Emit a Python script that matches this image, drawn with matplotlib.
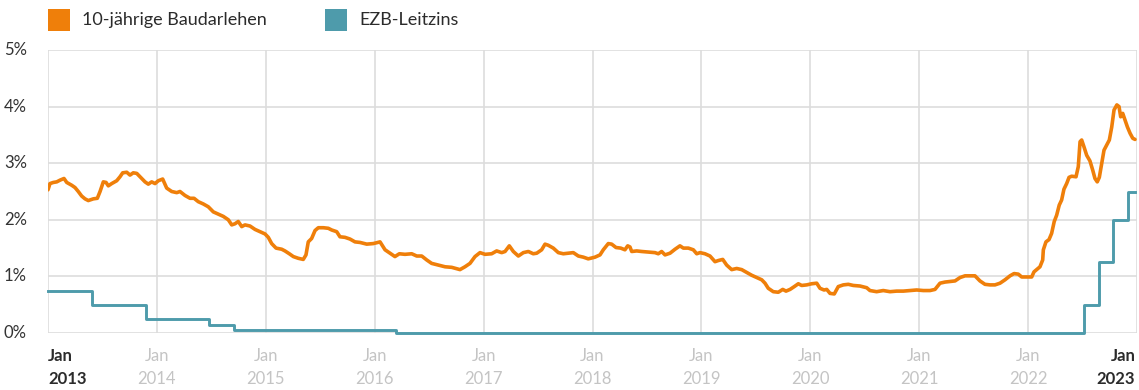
import matplotlib
matplotlib.use("Agg")
import matplotlib.pyplot as plt
from matplotlib.patches import Rectangle
import numpy as np

plt.rcParams['font.family'] = ['Lato', 'DejaVu Sans']

# ---- data (years since Jan 2013, rate in %) ----
bau_t = [0.000, 0.018, 0.049, 0.080, 0.110, 0.147, 0.172, 0.218, 0.248, 0.278, 0.309, 0.340, 0.370, 0.416,
         0.453, 0.478, 0.508, 0.533, 0.554, 0.585, 0.631, 0.661, 0.686, 0.723, 0.753, 0.783, 0.815, 0.845,
         0.891, 0.921, 0.952, 0.983, 1.013, 1.053, 1.090, 1.136, 1.182, 1.212, 1.258, 1.304, 1.341, 1.380,
         1.426, 1.472, 1.518, 1.564, 1.610, 1.656, 1.687, 1.717, 1.747, 1.779, 1.809, 1.855, 1.901, 1.947,
         1.993, 2.023, 2.054, 2.094, 2.146, 2.176, 2.216, 2.253, 2.298, 2.344, 2.369, 2.390, 2.421, 2.452,
         2.482, 2.528, 2.574, 2.605, 2.651, 2.681, 2.727, 2.773, 2.819, 2.865, 2.927, 2.987, 3.049, 3.095,
         3.140, 3.186, 3.226, 3.278, 3.340, 3.386, 3.432, 3.478, 3.523, 3.584, 3.646, 3.707, 3.783, 3.829,
         3.875, 3.921, 3.967, 4.013, 4.074, 4.120, 4.166, 4.197, 4.236, 4.273, 4.319, 4.365, 4.411, 4.456,
         4.488, 4.533, 4.564, 4.594, 4.640, 4.686, 4.732, 4.778, 4.824, 4.870, 4.916, 4.961, 5.023, 5.069,
         5.099, 5.145, 5.176, 5.216, 5.259, 5.298, 5.323, 5.344, 5.360, 5.406, 5.452, 5.512, 5.574, 5.604,
         5.635, 5.666, 5.712, 5.758, 5.803, 5.834, 5.880, 5.926, 5.957, 5.987, 6.033, 6.079, 6.125, 6.155,
         6.196, 6.232, 6.278, 6.324, 6.370, 6.416, 6.462, 6.508, 6.554, 6.584, 6.614, 6.660, 6.706, 6.747,
         6.777, 6.814, 6.853, 6.890, 6.921, 6.967, 7.013, 7.059, 7.089, 7.126, 7.151, 7.181, 7.220, 7.257,
         7.303, 7.349, 7.395, 7.456, 7.518, 7.548, 7.609, 7.670, 7.732, 7.793, 7.854, 7.916, 7.977, 8.038,
         8.099, 8.145, 8.191, 8.237, 8.283, 8.329, 8.375, 8.421, 8.466, 8.512, 8.558, 8.604, 8.650, 8.696,
         8.742, 8.788, 8.834, 8.871, 8.910, 8.941, 8.987, 9.033, 9.054, 9.079, 9.109, 9.134, 9.140, 9.164,
         9.192, 9.216, 9.240, 9.262, 9.286, 9.308, 9.329, 9.354, 9.376, 9.400, 9.440, 9.461, 9.477, 9.492,
         9.513, 9.538, 9.568, 9.593, 9.614, 9.635, 9.654, 9.676, 9.697, 9.722, 9.746, 9.768, 9.789, 9.815,
         9.835, 9.850, 9.869, 9.890, 9.912, 9.936, 9.961, 9.982]
bau_rate = [2.53, 2.64, 2.66, 2.67, 2.70, 2.73, 2.66, 2.61, 2.57, 2.50, 2.42, 2.37, 2.34, 2.37,
            2.38, 2.50, 2.67, 2.66, 2.60, 2.64, 2.69, 2.76, 2.83, 2.84, 2.79, 2.83, 2.82, 2.76,
            2.67, 2.63, 2.67, 2.64, 2.69, 2.72, 2.56, 2.50, 2.48, 2.50, 2.43, 2.38, 2.38, 2.32,
            2.28, 2.23, 2.14, 2.10, 2.06, 2.00, 1.91, 1.93, 1.97, 1.88, 1.91, 1.89, 1.83, 1.79,
            1.75, 1.69, 1.58, 1.50, 1.48, 1.45, 1.40, 1.35, 1.32, 1.30, 1.38, 1.61, 1.67, 1.81,
            1.86, 1.86, 1.85, 1.82, 1.79, 1.70, 1.69, 1.66, 1.61, 1.60, 1.57, 1.58, 1.61, 1.47,
            1.41, 1.35, 1.40, 1.39, 1.40, 1.36, 1.36, 1.29, 1.23, 1.20, 1.17, 1.16, 1.12, 1.17,
            1.23, 1.35, 1.42, 1.39, 1.40, 1.45, 1.42, 1.44, 1.54, 1.44, 1.36, 1.42, 1.44, 1.40,
            1.41, 1.47, 1.57, 1.55, 1.50, 1.42, 1.40, 1.41, 1.42, 1.36, 1.34, 1.31, 1.34, 1.38,
            1.47, 1.58, 1.57, 1.51, 1.50, 1.47, 1.54, 1.52, 1.44, 1.45, 1.44, 1.43, 1.42, 1.40,
            1.44, 1.38, 1.41, 1.48, 1.54, 1.50, 1.50, 1.47, 1.40, 1.42, 1.40, 1.36, 1.26, 1.28,
            1.30, 1.20, 1.12, 1.14, 1.12, 1.07, 1.02, 0.98, 0.94, 0.88, 0.79, 0.73, 0.72, 0.77,
            0.74, 0.77, 0.82, 0.87, 0.84, 0.85, 0.87, 0.88, 0.79, 0.76, 0.77, 0.70, 0.69, 0.82,
            0.85, 0.86, 0.84, 0.83, 0.80, 0.75, 0.73, 0.75, 0.73, 0.74, 0.74, 0.75, 0.76, 0.75,
            0.75, 0.77, 0.88, 0.90, 0.91, 0.92, 0.98, 1.01, 1.01, 1.01, 0.92, 0.86, 0.85, 0.85,
            0.88, 0.94, 1.01, 1.05, 1.04, 0.99, 0.99, 0.99, 1.08, 1.12, 1.17, 1.29, 1.47, 1.61,
            1.65, 1.76, 1.97, 2.08, 2.26, 2.35, 2.54, 2.64, 2.75, 2.77, 2.76, 2.94, 3.38, 3.41,
            3.29, 3.14, 3.04, 2.88, 2.73, 2.67, 2.75, 3.00, 3.23, 3.32, 3.41, 3.64, 3.94, 4.03,
            4.00, 3.82, 3.88, 3.76, 3.64, 3.53, 3.44, 3.42]

ecb_t = [0.00, 0.40, 0.90, 1.48, 1.71, 3.20, 9.51, 9.65, 9.78, 9.92, 9.982]
ecb_rate = [0.75, 0.50, 0.25, 0.15, 0.05, 0.00, 0.50, 1.25, 2.00, 2.50, 2.50]

start_year = 2013
years = list(range(2013, 2024))
y_ticks = [0, 1, 2, 3, 4, 5]
y_labels = ["0%", "1%", "2%", "3%", "4%", "5%"]
series_names = ["10-jährige Baudarlehen", "EZB-Leitzins"]

ORANGE = "#EF7F0A"
TEAL = "#4E9BAB"
GRID = "#DDDDDD"
DARK = "#2B2B2B"
LIGHT = "#C4C4C4"

W, H = 1139, 390
fig = plt.figure(figsize=(W / 100, H / 100), dpi=100)
ax = fig.add_axes([48 / W, 57 / H, 1089 / W, 283 / H])

bx = start_year + np.array(bau_t)
ex = start_year + np.array(ecb_t)

ax.set_xlim(2013, 2023)
ax.set_ylim(0, 5)

for yv in y_ticks:
    ax.axhline(yv, color=GRID, lw=1.2, zorder=1)
for yr in years:
    ax.axvline(yr, color=GRID, lw=1.2, zorder=1)

ax.step(ex, ecb_rate, where='post', color=TEAL, lw=2.1, zorder=3, clip_on=False)
ax.plot(bx, bau_rate, color=ORANGE, lw=2.6, zorder=4, solid_joinstyle='round', solid_capstyle='round')

for s in ax.spines.values():
    s.set_visible(False)
ax.set_xticks([])
ax.set_yticks([])

# y labels
for yv, lab in zip(y_ticks, y_labels):
    fig.text(4 / W, (H - (333 - yv * 56.6)) / H, lab, ha='left', va='center',
             fontsize=12, color="#333333")

# x labels
xt = ax.get_xaxis_transform()
for i, yr in enumerate(years):
    if i == 0:
        ha, col, fw = 'left', DARK, 'bold'
    elif i == len(years) - 1:
        ha, col, fw = 'right', DARK, 'bold'
    else:
        ha, col, fw = 'center', LIGHT, 'normal'
    xpos = yr if i < len(years) - 1 else 2022.985
    ax.text(xpos, -23 / 283, "Jan", transform=xt, ha=ha, va='center', fontsize=12,
            color=col, fontweight=fw)
    ax.text(xpos, -46 / 283, str(yr), transform=xt, ha=ha, va='center', fontsize=12,
            color=col, fontweight=fw)

# legend
fig.add_artist(Rectangle((48 / W, (H - 31) / H), 22 / W, 22 / H, transform=fig.transFigure,
                         color=ORANGE, lw=0))
fig.text(82 / W, (H - 20) / H, series_names[0], ha='left', va='center', fontsize=13, color=DARK)
fig.add_artist(Rectangle((325 / W, (H - 31) / H), 22 / W, 22 / H, transform=fig.transFigure,
                         color=TEAL, lw=0))
fig.text(359 / W, (H - 20) / H, series_names[1], ha='left', va='center', fontsize=13, color=DARK)

fig.savefig("out.png", dpi=100)
